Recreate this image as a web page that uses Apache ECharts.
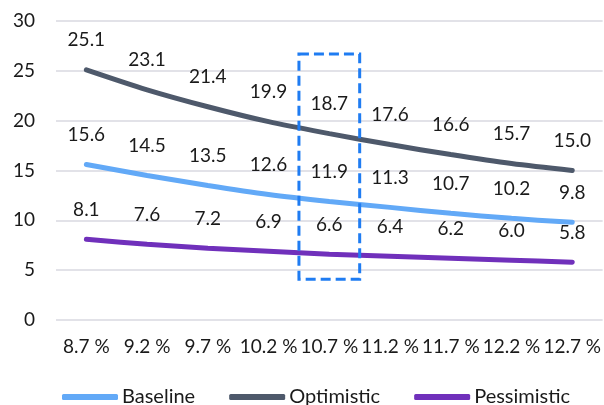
<!DOCTYPE html>
<html>
<head>
<meta charset="utf-8">
<script src="https://cdn.jsdelivr.net/npm/echarts@6/dist/echarts.min.js"></script>
<style>html,body{margin:0;padding:0;background:#fff}#c{width:604px;height:405px}</style>
</head>
<body>
<div id="c"></div>
<script>
var categories = ['8.7 %', '9.2 %', '9.7 %', '10.2 %', '10.7 %', '11.2 %', '11.7 %', '12.2 %', '12.7 %'];
var baseline = [15.6, 14.5, 13.5, 12.6, 11.9, 11.3, 10.7, 10.2, 9.8];
var optimistic = [25.1, 23.1, 21.4, 19.9, 18.7, 17.6, 16.6, 15.7, 15.0];
var pessimistic = [8.1, 7.6, 7.2, 6.9, 6.6, 6.4, 6.2, 6.0, 5.8];
var yTicks = [0, 5, 10, 15, 20, 25, 30];
var highlightCategory = '10.7 %';
var highlightRange = [4.1, 26.7];

var FONT = 'Lato';
var TXT = '#1a1a1a';
var chart = echarts.init(document.getElementById('c'), null, {renderer: 'canvas'});

function mkSeries(name, data, color) {
  return {
    name: name, type: 'line', data: data, smooth: 0.3,
    symbol: 'circle', symbolSize: 0, showSymbol: true,
    lineStyle: {width: 5, color: color, cap: 'round'},
    itemStyle: {color: color},
    label: {show: true, position: 'top', distance: 20, color: TXT, fontFamily: FONT, fontSize: 19,
      formatter: function (p) { return p.value.toFixed(1); }},
    emphasis: {disabled: true},
    animation: false
  };
}

var option = {
  animation: false,
  grid: {left: 56, right: 0, top: 21, bottom: 85, containLabel: false},
  xAxis: {
    type: 'category', data: categories, boundaryGap: true,
    axisLine: {show: false}, axisTick: {show: false},
    axisLabel: {color: TXT, fontFamily: FONT, fontSize: 19, margin: 17, interval: 0}
  },
  yAxis: {
    type: 'value', min: yTicks[0], max: yTicks[yTicks.length - 1], interval: 5,
    axisLine: {show: false}, axisTick: {show: false},
    axisLabel: {color: TXT, fontFamily: FONT, fontSize: 19, margin: 21},
    splitLine: {lineStyle: {color: '#e2e2e8', width: 2}}
  },
  legend: {
    left: 57, top: 382, itemWidth: 56, itemHeight: 6, itemGap: 34,
    icon: 'roundRect',
    textStyle: {color: TXT, fontFamily: FONT, fontSize: 20, padding: [0, 0, 0, -1]},
    data: ['Baseline', 'Optimistic', 'Pessimistic']
  },
  series: [
    mkSeries('Baseline', baseline, '#62a9f7'),
    mkSeries('Optimistic', optimistic, '#4e596b'),
    mkSeries('Pessimistic', pessimistic, '#7030bb')
  ]
};
chart.setOption(option);

var pTop = chart.convertToPixel({gridIndex: 0}, [highlightCategory, highlightRange[1]]);
var pBot = chart.convertToPixel({gridIndex: 0}, [highlightCategory, highlightRange[0]]);
var bandW = chart.getModel().getComponent('xAxis', 0).axis.getBandWidth();
chart.setOption({
  graphic: [{
    type: 'rect', z: 100,
    shape: {x: pTop[0] - bandW / 2, y: pTop[1], width: bandW, height: pBot[1] - pTop[1]},
    style: {fill: 'none', stroke: '#1f7cf2', lineWidth: 3, lineDash: [10, 5]}
  }]
});
</script>
</body>
</html>
